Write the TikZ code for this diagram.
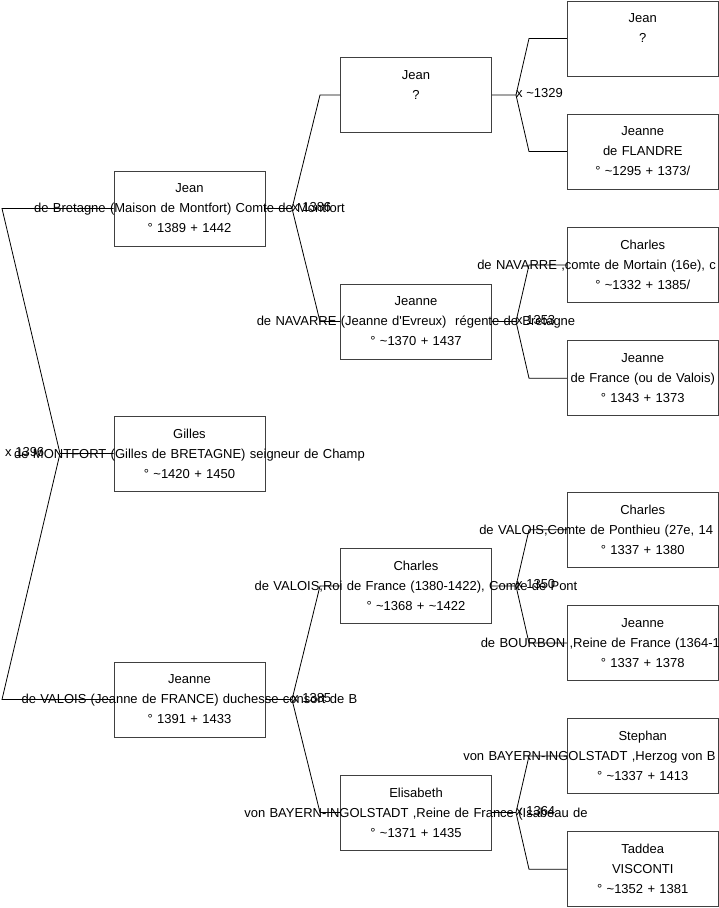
\documentclass[tikz,border=0pt]{standalone}
\usepackage{fontspec}
\setmainfont{Liberation Sans}[Ligatures=TeXOff]
\usetikzlibrary{positioning}
\newcommand\abt{\textasciitilde}
\newcommand\wideline[1]{\makebox[0pt]{#1}}
\newcommand\cutline[2]{\makebox[0pt][l]{\hspace*{-#1}#2}}
\tikzset{
	x=1pt, y=-1pt,
	person/.style={draw=black!75, line width=0.9pt, minimum width=151pt, minimum height=75pt,
		inner sep=0pt, text width=151pt, align=center, font=\fontsize{13}{20}\selectfont},
	link/.style={draw, line width=0.8pt},
	wed/.style={anchor=west, inner sep=0pt, yshift=1.5pt, font=\fontsize{13}{20}\selectfont}
}
\begin{document}
\begin{tikzpicture}
    \clip (0,0) rectangle (719,908);

    \node[person] (jean) at (189.5,208.5) {Jean\\\wideline{de Bretagne (Maison de Montfort) Comte de Montfort}\\° 1389 + 1442};
    \node[person] (gilles) at (189.5,453.5) {Gilles\\\wideline{de MONTFORT (Gilles de BRETAGNE) seigneur de Champ}\\° \abt1420 + 1450};
    \node[person] (jeanne) at (189.5,699.5) {Jeanne\\\wideline{de VALOIS (Jeanne de FRANCE) duchesse consort de B}\\° 1391 + 1433};

    \node[person] (jeanP) at (416,95) {Jean\\?\\\mbox{}};
    \node[person] (jnav) at (416,321.5) {Jeanne\\\wideline{de NAVARRE (Jeanne d'Evreux)\ \ régente de Bretagne}\\° \abt1370 + 1437};
    \node[person] (charles) at (416,586) {Charles\\\wideline{de VALOIS,Roi de France (1380-1422), Comte de Pont}\\° \abt1368 + \abt1422};
    \node[person] (elisa) at (416,812.5) {Elisabeth\\\wideline{von BAYERN-INGOLSTADT ,Reine de France (Isabeau de}\\° \abt1371 + 1435};

    \node[person] (jean2) at (642.75,38.5) {Jean\\?\\\mbox{}};
    \node[person] (flandre) at (642.75,151.5) {Jeanne\\de FLANDRE\\° \abt1295 + 1373/};
    \node[person] (chnav) at (642.75,265) {Charles\\\cutline{165.5pt}{de NAVARRE ,comte de Mortain (16e), c}\\° \abt1332 + 1385/};
    \node[person] (jfrance) at (642.75,378.2) {Jeanne\\de France (ou de Valois)\\° 1343 + 1373};
    \node[person] (chval) at (642.75,529.8) {Charles\\\cutline{163.5pt}{de VALOIS,Comte de Ponthieu (27e, 14}\\° 1337 + 1380};
    \node[person] (bourbon) at (642.75,643) {Jeanne\\\cutline{162pt}{de BOURBON ,Reine de France (1364-1}\\° 1337 + 1378};
    \node[person] (stephan) at (642.75,756) {Stephan\\\cutline{179.5pt}{von BAYERN-INGOLSTADT ,Herzog von B}\\° \abt1337 + 1413};
    \node[person] (taddea) at (642.75,869.2) {Taddea\\VISCONTI\\° \abt1352 + 1381};

    % forks
    \coordinate (e0) at (2,0);
    \coordinate (f0) at (60,453.5);
    \coordinate (f1) at (292,0);
    \coordinate (e1) at (320,0);
    \coordinate (f2) at (516,0);
    \coordinate (e2) at (529,0);

    \draw[link] (gilles.west) -- (f0) -- (e0 |- jean.west) -- (jean.west);
    \draw[link] (f0) -- (e0 |- jeanne.west) -- (jeanne.west);
    \node[wed] (m0) at (5,453.5) {x 1396};

    \draw[link] (jean.east) -- (f1 |- jean.east) -- (e1 |- jeanP.west) -- (jeanP.west);
    \draw[link] (f1 |- jean.east) -- (e1 |- jnav.west) -- (jnav.west);
    \node[wed] (m1) at (f1 |- jean.east) {x 1386};

    \draw[link] (jeanne.east) -- (f1 |- jeanne.east) -- (e1 |- charles.west) -- (charles.west);
    \draw[link] (f1 |- jeanne.east) -- (e1 |- elisa.west) -- (elisa.west);
    \node[wed] (m2) at (f1 |- jeanne.east) {x 1385};

    \draw[link] (jeanP.east) -- (f2 |- jeanP.east) -- (e2 |- jean2.west) -- (jean2.west);
    \draw[link] (f2 |- jeanP.east) -- (e2 |- flandre.west) -- (flandre.west);
    \node[wed] (m3) at (f2 |- jeanP.east) {x \abt1329};

    \draw[link] (jnav.east) -- (f2 |- jnav.east) -- (e2 |- chnav.west) -- (chnav.west);
    \draw[link] (f2 |- jnav.east) -- (e2 |- jfrance.west) -- (jfrance.west);
    \node[wed] (m4) at (f2 |- jnav.east) {x 1353};

    \draw[link] (charles.east) -- (f2 |- charles.east) -- (e2 |- chval.west) -- (chval.west);
    \draw[link] (f2 |- charles.east) -- (e2 |- bourbon.west) -- (bourbon.west);
    \node[wed] (m5) at (f2 |- charles.east) {x 1350};

    \draw[link] (elisa.east) -- (f2 |- elisa.east) -- (e2 |- stephan.west) -- (stephan.west);
    \draw[link] (f2 |- elisa.east) -- (e2 |- taddea.west) -- (taddea.west);
    \node[wed] (m6) at (f2 |- elisa.east) {x 1364};

\end{tikzpicture}
\end{document}
